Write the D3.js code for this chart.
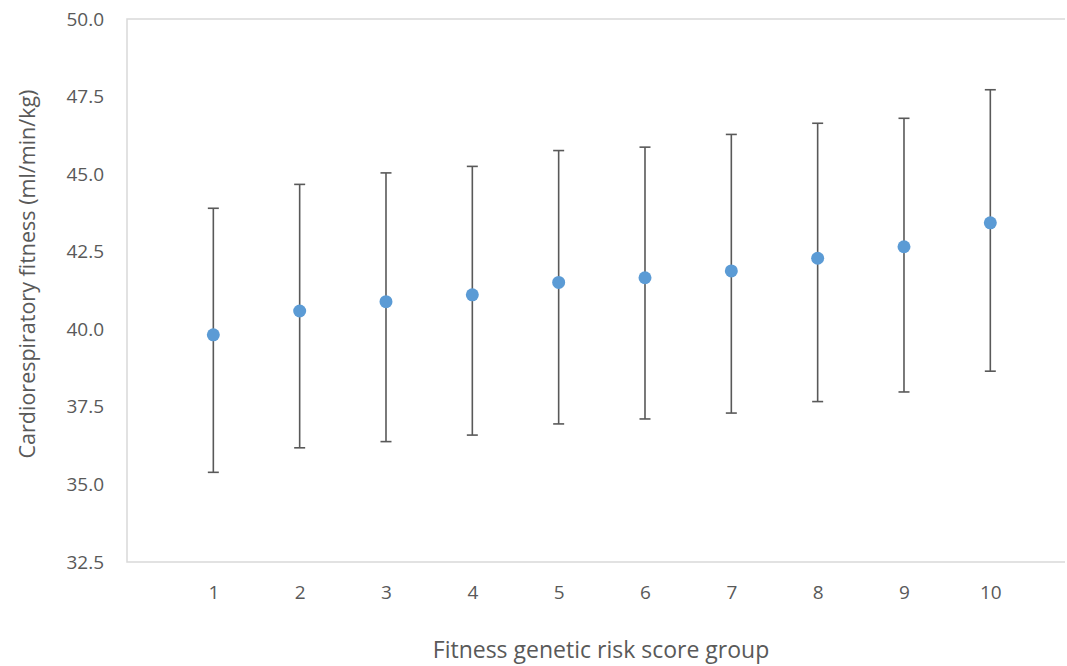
<!DOCTYPE html>
<html>
<head>
<meta charset="utf-8">
<script src="https://cdn.jsdelivr.net/npm/d3@7"></script>
<style>
	body { margin: 0; background: #fff; }
	text { font-family: 'Open Sans', sans-serif; fill: #595959; }
</style>
</head>
<body>
<script>
// Data
var groups = [1, 2, 3, 4, 5, 6, 7, 8, 9, 10];
var means = [39.82, 40.59, 40.89, 41.11, 41.51, 41.66, 41.88, 42.29, 42.66, 43.43];
var upper = [43.90, 44.67, 45.04, 45.25, 45.76, 45.87, 46.28, 46.64, 46.80, 47.72];
var lower = [35.39, 36.18, 36.38, 36.59, 36.95, 37.11, 37.30, 37.67, 37.98, 38.65];
var yTicks = [32.5, 35.0, 37.5, 40.0, 42.5, 45.0, 47.5, 50.0];

var data = groups.map(function(g, i) {
	return { group: g, mean: means[i], hi: upper[i], lo: lower[i] };
});

// Variables
var width = 1067, height = 666;
var margin = { top: 19, right: 2, bottom: 104, left: 127 };
var innerW = width - margin.left - margin.right;
var innerH = height - margin.top - margin.bottom;
var formatTick = d3.format('.1f');

// Scaling
var xScale = d3.scaleLinear().domain([0, 10.865]).range([0, innerW]);
var yScale = d3.scaleLinear().domain([32.5, 50]).range([innerH, 0]);

var svg = d3.select('body').append('svg')
		.attr('width', width)
		.attr('height', height)
	.append('g')
		.attr('transform', 'translate(' + margin.left + ',' + margin.top + ')');

// Frame lines (top, left, bottom)
svg.append('path')
	.attr('d', 'M' + innerW + ',0H0V' + innerH + 'H' + innerW)
	.attr('fill', 'none')
	.attr('stroke', '#d9d9d9')
	.attr('stroke-width', 1.5);

// Axes
var yAxis = d3.axisLeft(yScale).tickValues(yTicks).tickFormat(formatTick).tickSize(0).tickPadding(23);
var xAxis = d3.axisBottom(xScale).tickValues(groups).tickFormat(d3.format('d')).tickSize(0).tickPadding(24);

svg.append('g').call(yAxis)
	.call(function(g) { g.select('.domain').remove(); })
	.selectAll('text')
		.style('font-size', '19px')
		.attr('fill', '#595959');

svg.append('g')
		.attr('transform', 'translate(0,' + innerH + ')')
		.call(xAxis)
	.call(function(g) { g.select('.domain').remove(); })
	.selectAll('text')
		.style('font-size', '19px')
		.attr('fill', '#595959');

// Error bars
var bars = svg.selectAll('.err')
		.data(data)
		.enter()
	.append('g')
		.attr('class', 'err')
		.attr('stroke', '#595959')
		.attr('stroke-width', 1.6);

bars.append('line')
	.attr('x1', function(d) { return xScale(d.group); })
	.attr('x2', function(d) { return xScale(d.group); })
	.attr('y1', function(d) { return yScale(d.hi); })
	.attr('y2', function(d) { return yScale(d.lo); });
bars.append('line')
	.attr('x1', function(d) { return xScale(d.group) - 5.5; })
	.attr('x2', function(d) { return xScale(d.group) + 5.5; })
	.attr('y1', function(d) { return yScale(d.hi); })
	.attr('y2', function(d) { return yScale(d.hi); });
bars.append('line')
	.attr('x1', function(d) { return xScale(d.group) - 5.5; })
	.attr('x2', function(d) { return xScale(d.group) + 5.5; })
	.attr('y1', function(d) { return yScale(d.lo); })
	.attr('y2', function(d) { return yScale(d.lo); });

// Points
svg.selectAll('circle')
		.data(data)
		.enter()
	.append('circle')
		.attr('cx', function(d) { return xScale(d.group); })
		.attr('cy', function(d) { return yScale(d.mean); })
		.attr('r', 6.5)
		.attr('fill', '#5b9bd5');

// Axis titles
svg.append('text')
	.attr('x', 601 - margin.left)
	.attr('y', 658 - margin.top)
	.attr('text-anchor', 'middle')
	.style('font-size', '23px')
	.text('Fitness genetic risk score group');

svg.append('text')
	.attr('transform', 'translate(' + (35 - margin.left) + ',' + (274 - margin.top) + ') rotate(-90)')
	.attr('text-anchor', 'middle')
	.style('font-size', '21.5px')
	.text('Cardiorespiratory fitness (ml/min/kg)');
</script>
</body>
</html>
